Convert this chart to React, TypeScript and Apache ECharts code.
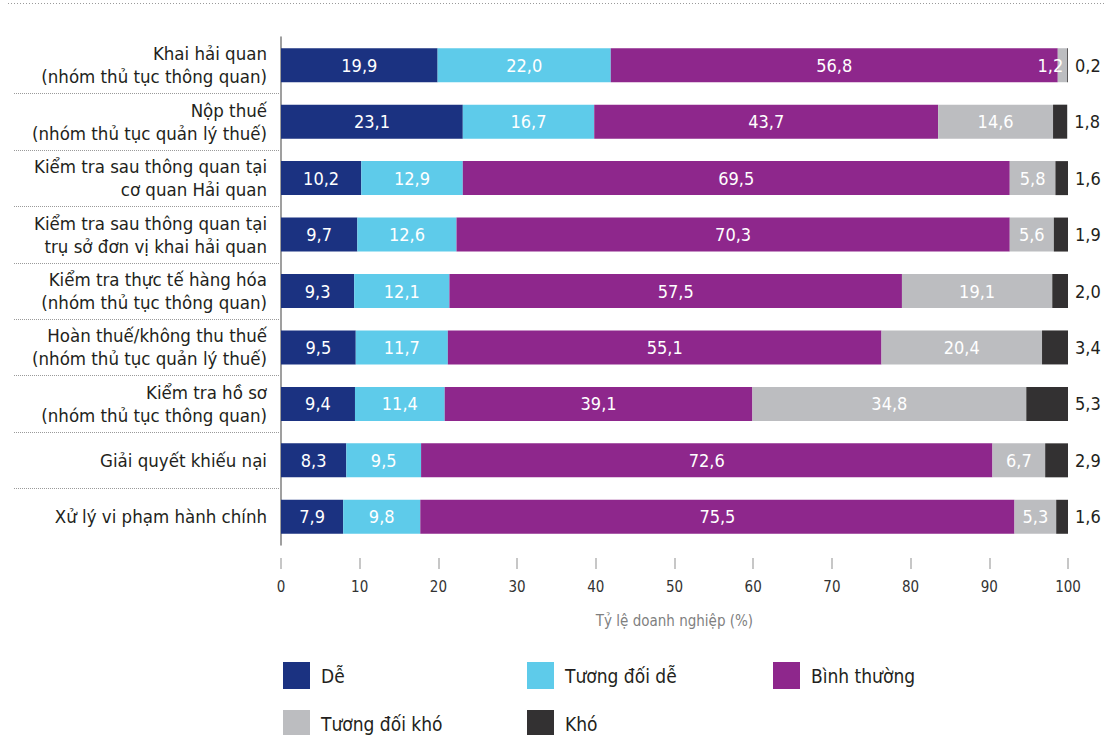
import React, { useEffect, useRef } from "react";
import * as echarts from "echarts";

const categories = [
  "Khai hải quan\n(nhóm thủ tục thông quan)",
  "Nộp thuế\n(nhóm thủ tục quản lý thuế)",
  "Kiểm tra sau thông quan tại\ncơ quan Hải quan",
  "Kiểm tra sau thông quan tại\ntrụ sở đơn vị khai hải quan",
  "Kiểm tra thực tế hàng hóa\n(nhóm thủ tục thông quan)",
  "Hoàn thuế/không thu thuế\n(nhóm thủ tục quản lý thuế)",
  "Kiểm tra hồ sơ\n(nhóm thủ tục thông quan)",
  "Giải quyết khiếu nại",
  "Xử lý vi phạm hành chính",
];

const seriesNames = ["Dễ", "Tương đối dễ", "Bình thường", "Tương đối khó", "Khó"];

const de = [19.9, 23.1, 10.2, 9.7, 9.3, 9.5, 9.4, 8.3, 7.9];
const tuongDoiDe = [22.0, 16.7, 12.9, 12.6, 12.1, 11.7, 11.4, 9.5, 9.8];
const binhThuong = [56.8, 43.7, 69.5, 70.3, 57.5, 55.1, 39.1, 72.6, 75.5];
const tuongDoiKho = [1.2, 14.6, 5.8, 5.6, 19.1, 20.4, 34.8, 6.7, 5.3];
const kho = [0.2, 1.8, 1.6, 1.9, 2.0, 3.4, 5.3, 2.9, 1.6];

const xAxisTitle = "Tỷ lệ doanh nghiệp (%)";
const xMin = 0;
const xMax = 100;
const xInterval = 10;

const colors = ["#1b3281", "#5ecbea", "#8e278c", "#bcbdc0", "#333132"];

const FONT = "'Liberation Sans Narrow', 'DejaVu Sans Condensed', 'Noto Sans', sans-serif";
const TEXT = "#231f20";

const fmt = (v: number) => v.toFixed(1).replace(".", ",");

export default function App() {
  const ref = useRef<HTMLDivElement>(null);

  useEffect(() => {
    if (!ref.current) return;
    const chart = echarts.init(ref.current, undefined, { renderer: "svg" });

    const allValues = [de, tuongDoiDe, binhThuong, tuongDoiKho, kho];

    const series: any[] = allValues.map((vals, si) => {
      const isLast = si === allValues.length - 1;
      return {
        name: seriesNames[si],
        type: "bar",
        stack: "total",
        xAxisIndex: 0,
        yAxisIndex: 0,
        barWidth: 34,
        itemStyle: { color: colors[si] },
        label: isLast
          ? {
              show: true,
              position: "right",
              distance: 7,
              color: TEXT,
              fontSize: 18,
              fontFamily: FONT,
              formatter: (p: any) => fmt(p.value),
            }
          : {
              show: true,
              position: "inside",
              color: "#ffffff",
              fontSize: 18,
              fontFamily: FONT,
              formatter: (p: any) => fmt(p.value),
            },
        data: vals.map((v) =>
          !isLast && v < 2 ? { value: v, label: { position: "insideRight", distance: 4 } } : v
        ),
      };
    });

    const legendPos = [
      [283, 662],
      [527, 662],
      [773, 662],
      [283, 710],
      [527, 710],
    ];

    const legends = seriesNames.map((n, i) => ({
      data: [n],
      left: legendPos[i][0],
      top: legendPos[i][1],
      padding: 0,
      itemWidth: 27,
      itemHeight: 27,
      icon: "rect",
      selectedMode: false,
      textStyle: {
        fontSize: 19,
        color: TEXT,
        fontFamily: FONT,
        padding: [0, 0, 0, 6],
      },
    }));

    chart.setOption({
      animation: false,
      textStyle: { fontFamily: FONT },
      color: colors,
      grid: [
        { left: 281, right: 46, top: 37, bottom: 190, containLabel: false },
        { left: 14, width: 266, top: 37, bottom: 190, containLabel: false },
      ],
      legend: legends,
      xAxis: [
        {
          type: "value",
          gridIndex: 0,
          min: xMin,
          max: xMax,
          interval: xInterval,
          offset: 13,
          axisLine: { show: false },
          axisTick: { show: true, length: 11, lineStyle: { color: "#b5b5b5", width: 1.5 } },
          splitLine: { show: false },
          axisLabel: { margin: 21, fontSize: 15, color: "#333333", fontFamily: FONT },
          name: xAxisTitle,
          nameLocation: "middle",
          nameGap: 55,
          nameTextStyle: { fontSize: 15, color: "#7f7f7f", fontFamily: FONT },
        },
        { type: "value", gridIndex: 1, show: false, min: 0, max: 1 },
      ],
      yAxis: [
        {
          type: "category",
          gridIndex: 0,
          inverse: true,
          data: categories,
          axisLine: { show: true, lineStyle: { color: "#7f7f7f", width: 1.5 } },
          axisTick: { show: false },
          splitLine: { show: false },
          axisLabel: {
            margin: 14,
            fontSize: 18.5,
            lineHeight: 23,
            color: TEXT,
            fontFamily: FONT,
            align: "right",
          },
        },
        {
          type: "category",
          gridIndex: 1,
          inverse: true,
          data: categories,
          axisLine: { show: false },
          axisTick: { show: false },
          axisLabel: { show: false },
          splitLine: {
            show: true,
            showMinLine: false,
            showMaxLine: false,
            lineStyle: { color: "#9a9a9a", type: "dotted", width: 1 },
          },
        },
      ],
      graphic: [
        {
          type: "line",
          shape: { x1: 8, y1: 3.5, x2: 1106, y2: 3.5 },
          style: { stroke: "#9a9a9a", lineWidth: 1, lineDash: [1, 2] },
          silent: true,
        },
      ],
      series,
    });

    return () => chart.dispose();
  }, []);

  return (
    <div
      ref={ref}
      style={{ position: "fixed", left: 0, top: 0, width: 1114, height: 735, background: "#ffffff" }}
    />
  );
}
